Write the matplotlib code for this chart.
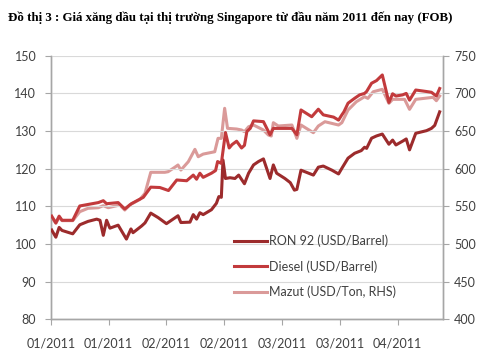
import matplotlib.pyplot as plt

# days since start of January 2011
ron_days = [0.2, 1.2, 2.0, 2.7, 5.3, 7.0, 9.0, 11.1, 11.9, 12.7, 13.5, 14.3, 16.3, 18.3,
            19.4, 19.9, 22.0, 22.8, 24.2, 26.0, 28.0, 29.6, 30.8, 31.5, 33.7, 34.5, 35.3,
            36.1, 36.9, 38.9, 40.1, 40.7, 41.3, 41.7, 42.3, 43.4, 44.6, 45.5, 46.9, 47.9,
            49.1, 50.3, 51.5, 53.1, 53.9, 54.7, 56.7, 58.0, 59.0, 59.6, 60.6, 62.0, 63.6,
            64.8, 66.0, 68.1, 69.7, 70.5, 72.0, 73.6, 75.2, 76.0, 76.5, 77.7, 78.9, 80.3,
            81.9, 82.8, 83.6, 85.2, 86.1, 86.9, 88.4, 91.0, 92.2, 93.0, 94.2]
ron92 = [103.7, 101.8, 104.4, 103.6, 102.7, 105.1, 106.0, 106.6, 106.3, 102.3, 106.3, 104.2,
         105.0, 101.3, 104.0, 103.0, 104.8, 105.6, 108.2, 107.0, 105.4, 106.6, 107.5, 105.7,
         105.8, 107.8, 106.6, 108.3, 107.8, 109.1, 110.8, 112.6, 112.4, 122.3, 117.4, 117.6,
         117.4, 118.3, 116.0, 118.8, 121.0, 121.9, 122.6, 117.4, 121.0, 118.8, 117.4, 116.3,
         114.3, 114.5, 119.6, 119.0, 118.3, 120.4, 120.7, 119.6, 118.6, 120.1, 122.8, 124.1,
         124.8, 125.7, 125.4, 128.1, 128.7, 129.2, 126.5, 127.6, 126.3, 127.3, 127.9, 125.0,
         129.4, 130.1, 130.7, 131.5, 135.1]

diesel_days = [0.2, 1.2, 2.0, 2.7, 5.3, 7.0, 9.0, 11.5, 12.7, 13.5, 16.3, 17.9, 19.5, 22.4,
               24.2, 26.4, 28.5, 30.5, 32.9, 34.5, 35.3, 36.1, 36.9, 38.9, 39.9, 40.4, 41.3,
               42.3, 43.2, 43.9, 45.0, 46.2, 46.9, 47.5, 48.3, 49.1, 51.5, 53.1, 53.9, 58.4,
               59.6, 60.6, 63.2, 64.8, 66.0, 68.5, 69.7, 70.5, 71.0, 72.0, 73.6, 74.8, 76.0,
               76.5, 77.7, 78.9, 80.3, 81.9, 82.8, 83.6, 85.2, 86.1, 86.9, 88.4, 91.0, 92.2,
               93.4, 94.2]
diesel = [107.4, 105.6, 107.4, 106.3, 106.3, 110.1, 110.5, 111.0, 111.5, 110.7, 111.0, 109.3,
          110.7, 112.4, 115.1, 115.0, 114.2, 117.0, 116.8, 118.3, 117.2, 118.8, 117.7, 118.8,
          119.5, 121.9, 121.4, 129.6, 125.5, 126.4, 127.3, 125.5, 126.2, 129.9, 130.7, 132.7,
          132.5, 129.0, 130.7, 130.7, 129.0, 135.6, 133.8, 135.8, 134.3, 133.7, 132.9, 134.3,
          135.1, 137.4, 138.7, 139.6, 140.0, 140.5, 142.7, 143.4, 144.9, 137.6, 139.9, 139.3,
          139.6, 140.0, 138.2, 140.9, 140.5, 140.3, 139.3, 141.3]

mazut_days = [0.2, 1.2, 2.0, 2.7, 5.3, 7.0, 9.0, 11.5, 12.7, 13.9, 16.7, 17.9, 19.1, 21.6,
              22.8, 24.2, 27.6, 28.4, 30.0, 30.8, 31.5, 33.3, 34.9, 35.7, 36.9, 39.7, 40.5,
              41.3, 42.1, 42.8, 45.0, 46.2, 46.9, 47.9, 49.1, 51.5, 52.7, 53.4, 53.9, 55.1,
              58.4, 59.6, 60.6, 63.6, 64.8, 66.4, 69.7, 70.5, 72.0, 74.0, 76.0, 76.8, 78.1,
              80.3, 81.9, 82.8, 85.7, 86.9, 88.4, 92.6, 93.4, 94.2]
mazut = [535.4, 527.5, 535.4, 531.0, 531.0, 542.9, 547.4, 548.2, 550.9, 548.2, 551.8, 545.1,
         551.8, 559.4, 567.3, 595.2, 595.2, 596.0, 601.8, 604.9, 598.2, 609.3, 625.7, 615.9,
         619.4, 622.5, 640.3, 640.3, 680.2, 653.6, 652.7, 651.4, 649.1, 655.7, 658.0, 651.4,
         644.7, 643.4, 661.1, 656.7, 658.0, 640.3, 658.0, 647.8, 656.7, 662.4, 658.0, 661.1,
         677.9, 688.9, 695.6, 693.4, 702.2, 705.4, 686.8, 692.1, 692.1, 678.8, 692.1, 694.8,
         690.3, 696.5]

tick_days = [0, 14, 28, 42, 56, 70, 84]
tick_labels = ["01/2011", "01/2011", "02/2011", "02/2011", "03/2011", "03/2011", "04/2011"]

c_ron = "#9C2B2C"
c_diesel = "#C23A3C"
c_mazut = "#DA9A99"
gray = "#A6A6A6"
txt = "#404040"
plt.rcParams["font.family"] = ["Lato", "DejaVu Sans"]

fig = plt.figure(figsize=(4.8, 3.62), dpi=100)
ax = fig.add_axes([0.106, 0.118, 0.816, 0.728])
ax2 = ax.twinx()

l1, = ax.plot(ron_days, ron92, color=c_ron, lw=2.2, label="RON 92 (USD/Barrel)", zorder=3)
l2, = ax.plot(diesel_days, diesel, color=c_diesel, lw=2.2, label="Diesel (USD/Barrel)", zorder=3)
l3, = ax2.plot(mazut_days, mazut, color=c_mazut, lw=2.2, label="Mazut (USD/Ton, RHS)")
ax.set_zorder(ax2.get_zorder() + 1)
ax.patch.set_visible(False)

ax.set_xlim(0, 94.9)
ax.set_ylim(80, 150)
ax2.set_ylim(400, 750)
ax.set_yticks(range(80, 151, 10))
ax2.set_yticks(range(400, 751, 50))
ax.set_xticks(tick_days)
ax.set_xticklabels(tick_labels)
ax.grid(axis="y", color="#D9D9D9", lw=0.8)
ax.set_axisbelow(True)

for a in (ax, ax2):
    a.spines["top"].set_visible(False)
    for s in ("left", "right", "bottom"):
        a.spines[s].set_color(gray)
        a.spines[s].set_linewidth(1.0)
    a.tick_params(colors=gray, labelcolor=txt, labelsize=9, length=4, direction="out")
ax.tick_params(axis="x", pad=9)
ax.tick_params(axis="y", pad=6.5)
ax2.tick_params(axis="y", pad=4.3)

ax.legend(handles=[l1, l2, l3], loc="upper left", bbox_to_anchor=(0.44, 0.365),
          frameon=False, fontsize=9, handlelength=2.6, handletextpad=0.2,
          labelspacing=1.05, labelcolor=txt)

fig.text(0.017, 0.95, "Đồ thị 3 : Giá xăng dầu tại thị trường Singapore từ đầu năm 2011 đến nay (FOB)",
         fontsize=9.3, fontweight="bold", family="Liberation Serif", va="center", ha="left")

fig.savefig("out.png", dpi=100)
